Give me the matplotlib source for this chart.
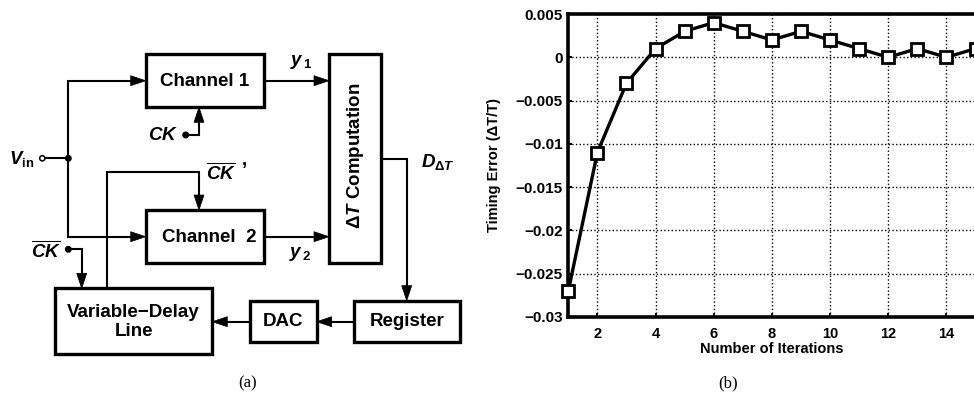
import matplotlib

matplotlib.use("Agg")

import matplotlib.pyplot as plt
from matplotlib.patches import Rectangle, Polygon, Circle

plt.rcParams["font.family"] = ["Liberation Sans", "DejaVu Sans"]
plt.rcParams["font.weight"] = "bold"
plt.rcParams["mathtext.fontset"] = "custom"
plt.rcParams["mathtext.rm"] = "Liberation Sans:bold"
plt.rcParams["mathtext.bf"] = "Liberation Sans:bold"
plt.rcParams["mathtext.it"] = "Liberation Sans:italic:bold"

INK = "#000000"
W, H = 974, 399

# (b) timing error vs iterations
iterations = [1, 2, 3, 4, 5, 6, 7, 8, 9, 10, 11, 12, 13, 14, 15]
timing_error = [-0.027, -0.011, -0.003, 0.001, 0.003, 0.004, 0.003, 0.002,
                0.003, 0.002, 0.001, 0.0, 0.001, 0.0, 0.001]
x_ticks = [2, 4, 6, 8, 10, 12, 14]
y_ticks = [0.005, 0, -0.005, -0.01, -0.015, -0.02, -0.025, -0.03]
y_tick_labels = ["0.005", "0", "\u22120.005", "\u22120.01", "\u22120.015",
                 "\u22120.02", "\u22120.025", "\u22120.03"]

fig = plt.figure(figsize=(W / 100, H / 100), dpi=100)

# ---- (a) block diagram, drawn in pixel coordinates ----
dg = fig.add_axes([0, 0, 1, 1])
dg.set_xlim(0, W)
dg.set_ylim(H, 0)
dg.axis("off")

BOX_LW = 2.4
WIRE_LW = 1.5


def box(x0, y0, x1, y1):
    dg.add_patch(Rectangle((x0, y0), x1 - x0, y1 - y0, fill=False,
                           lw=BOX_LW, ec=INK, zorder=3))


def wire(pts, arrow=True):
    xs = [p[0] for p in pts]
    ys = [p[1] for p in pts]
    if arrow:
        (xa, ya), (xb, yb) = pts[-2], pts[-1]
        L, hw = 15, 5.0
        dx, dy = xb - xa, yb - ya
        n = (dx ** 2 + dy ** 2) ** 0.5
        ux, uy = dx / n, dy / n
        bx, by = xb - ux * L, yb - uy * L
        dg.add_patch(Polygon([(xb, yb), (bx - uy * hw, by + ux * hw),
                              (bx + uy * hw, by - ux * hw)],
                             closed=True, fc=INK, ec=INK, lw=0.5, zorder=4))
        xs[-1], ys[-1] = bx + ux * 2, by + uy * 2
    dg.plot(xs, ys, color=INK, lw=WIRE_LW, solid_capstyle="butt",
            solid_joinstyle="miter", zorder=2)


def dot(x, y, r=2.7, filled=True):
    dg.add_patch(Circle((x, y), r, fc=INK if filled else "white", ec=INK,
                        lw=1.1, zorder=5))


# boxes
box(145.7, 54.3, 264.3, 107.3)
box(145.7, 210, 264.3, 262.7)
box(329, 54.3, 381, 262.7)
box(55, 288.3, 212.3, 354.3)
box(250, 300.7, 316.7, 341.7)
box(354, 300.7, 460, 341.7)

TS = 13.5
dg.text(205, 81, "Channel 1", ha="center", va="center", fontsize=TS, fontweight="bold")
dg.text(209, 237.5, "Channel  2", ha="center", va="center", fontsize=TS, fontweight="bold")
dg.text(355, 156, r"$\Delta\mathit{T}$ Computation", ha="center", va="center",
        rotation=90, fontsize=TS, fontweight="bold")
dg.text(133.5, 322, "Variable\u2212Delay\nLine", ha="center", va="center",
        fontsize=TS, fontweight="bold", linespacing=1.15)
dg.text(283.3, 322, "DAC", ha="center", va="center", fontsize=TS, fontweight="bold")
dg.text(407, 322, "Register", ha="center", va="center", fontsize=TS, fontweight="bold")

# input Vin
dg.text(34, 159, r"$\mathit{V}_{\mathrm{in}}$", ha="right", va="center", fontsize=TS)
wire([(44.8, 158.3), (68.3, 158.3)], arrow=False)
dot(42.3, 158.3, r=2.6, filled=False)
dot(68.3, 158.3)
wire([(68.3, 158.3), (68.3, 80.7), (145.7, 80.7)])
wire([(68.3, 158.3), (68.3, 236.7), (145.7, 236.7)])

# channel outputs
wire([(264.3, 80.7), (329, 80.7)])
wire([(264.3, 236.7), (329, 236.7)])
dg.text(290, 62, r"$\mathit{y}_{\,1}$", ha="left", va="center", fontsize=TS)
dg.text(289, 254, r"$\mathit{y}_{\,2}$", ha="left", va="center", fontsize=TS)

# CK to channel 1
dg.text(178, 135, r"$\mathit{CK}$", ha="right", va="center", fontsize=TS)
dot(185.7, 135)
wire([(185.7, 135), (199, 135), (199, 107.3)])

# CK-bar' from variable delay line to channel 2
wire([(107.3, 288.3), (107.3, 172.3), (199, 172.3), (199, 210)])
dg.text(206, 173, r"$\overline{\mathit{CK}}$", ha="left", va="center", fontsize=TS)
dg.text(242, 160, ",", ha="left", va="center", fontsize=TS)

# CK-bar to variable delay line
dg.text(61, 251, r"$\overline{\mathit{CK}}$", ha="right", va="center", fontsize=TS)
dot(68.3, 249.3)
wire([(68.3, 249.3), (81.7, 249.3), (81.7, 288.3)])

# D_dT to register, register -> DAC -> delay line
wire([(381, 159), (406.7, 159), (406.7, 300.7)])
dg.text(421, 162, r"$\mathit{D}_{\Delta\mathit{T}}$", ha="left", va="center", fontsize=TS)
wire([(354, 321.7), (316.7, 321.7)])
wire([(250, 321.7), (212.3, 321.7)])

fig.text(248 / W, 1 - 383 / H, "(a)", ha="center", va="center",
         family="Liberation Serif", fontweight="normal", fontsize=12)
fig.text(728 / W, 1 - 383 / H, "(b)", ha="center", va="center",
         family="Liberation Serif", fontweight="normal", fontsize=12)

# ---- (b) convergence plot ----
left, right, top, bottom = 568.3, 975.5, 14, 317
ax = fig.add_axes([left / W, 1 - bottom / H, (right - left) / W, (bottom - top) / H])
ax.plot(iterations, timing_error, color=INK, lw=2.4, marker="s", ms=8,
        mfc="white", mec=INK, mew=2.0, clip_on=False, zorder=5)
ax.set_xlim(1, 15)
ax.set_ylim(-0.03, 0.005)
ax.set_xticks(x_ticks)
ax.set_yticks(y_ticks)
ax.set_yticklabels(y_tick_labels)
ax.tick_params(direction="in", length=3, width=1.5, labelsize=11, pad=4)
ax.tick_params(axis="x", labelsize=10.5, pad=7)
ax.grid(True, color=INK, linestyle=":", lw=1.0)
for spine in ax.spines.values():
    spine.set_linewidth(2.6)
ax.set_xlabel("Number of Iterations", fontsize=10.5, fontweight="bold")
ax.set_ylabel("Timing Error (\u0394T/T)", fontsize=10.5, fontweight="bold")
ax.xaxis.set_label_coords(0.5, -0.082)
ax.yaxis.set_label_coords(-0.166, 0.5)

fig.savefig("out.png", dpi=100)
